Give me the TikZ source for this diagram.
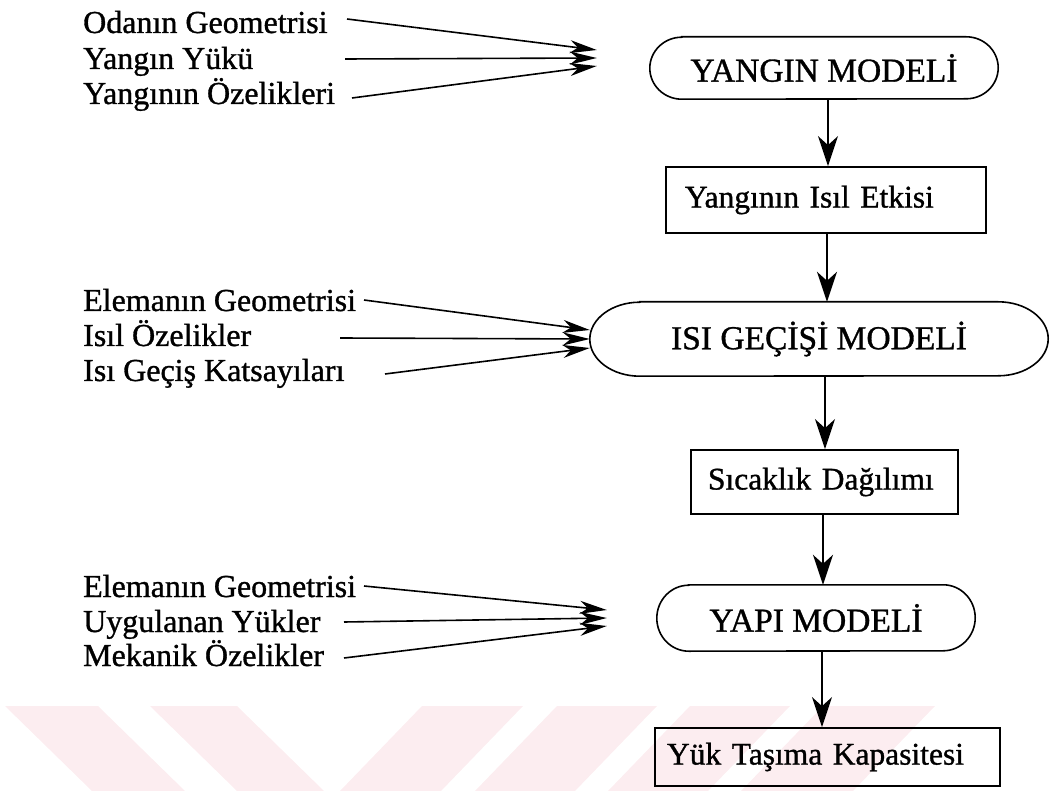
\documentclass[tikz,border=0pt]{standalone}
\usepackage{fontspec}
\setmainfont{Liberation Serif}[FakeBold=1]
\usetikzlibrary{arrows.meta}
\definecolor{wm}{RGB}{252,237,240}
\tikzset{
  lbl/.style={anchor=base west, inner sep=0pt, font=\fontsize{32}{36}\selectfont},
  capnode/.style={inner sep=0pt, font=\fontsize{33.5}{40}\selectfont},
  boxnode/.style={draw, line width=1.8pt, align=left, inner ysep=0pt, font=\fontsize{31.5}{36}\selectfont},
  outline/.style={line width=1.6pt},
  inarrow/.style={line width=1.6pt, -{Stealth[length=27pt,width=13pt,inset=8pt]}},
  downarrow/.style={line width=1.8pt, -{Stealth[length=30pt,width=20pt,inset=9pt]}},
}
\begin{document}
\begin{tikzpicture}[x=1pt,y=-1pt]
\useasboundingbox (0,0) rectangle (1052,791);
% watermark
\fill[wm] (5,706) -- (98,706) -- (185,791) -- (92,791) -- cycle;
\fill[wm] (150,706) -- (237,706) -- (324,791) -- (237,791) -- cycle;
\fill[wm] (422,706) -- (523,706) -- (441,791) -- (340,791) -- cycle;
\fill[wm] (557,706) -- (657,706) -- (575,791) -- (475,791) -- cycle;
\fill[wm] (690,706) -- (790,706) -- (708,791) -- (608,791) -- cycle;
\fill[wm] (823,706) -- (935,706) -- (853,791) -- (741,791) -- cycle;

% model nodes (rounded ends drawn below)
\node[capnode, minimum width=348pt, minimum height=62pt] (m1) at (824,68) {YANGIN MODELİ};
\node[capnode, minimum width=458pt, minimum height=74pt] (m2) at (819,339) {ISI GEÇİŞİ MODELİ};
\node[capnode, minimum width=318pt, minimum height=66pt] (m3) at (816,618) {YAPI MODELİ};

\draw[outline] ([xshift=32pt]m1.north west) -- ([xshift=-32pt]m1.north east)
  arc[start angle=90, end angle=-90, x radius=32pt, y radius=31pt]
  -- ([xshift=32pt]m1.south west)
  arc[start angle=270, end angle=90, x radius=32pt, y radius=31pt] -- cycle;
\draw[outline] ([xshift=50pt]m2.north west) -- ([xshift=-50pt]m2.north east)
  arc[start angle=90, end angle=-90, x radius=50pt, y radius=37pt]
  -- ([xshift=50pt]m2.south west)
  arc[start angle=270, end angle=90, x radius=50pt, y radius=37pt] -- cycle;
\draw[outline] ([xshift=32pt]m3.north west) -- ([xshift=-32pt]m3.north east)
  arc[start angle=90, end angle=-90, x radius=32pt, y radius=33pt]
  -- ([xshift=32pt]m3.south west)
  arc[start angle=270, end angle=90, x radius=32pt, y radius=33pt] -- cycle;

% result boxes
\node[boxnode, minimum height=66pt, text width=282pt, inner xsep=19pt] (b1) at (826,200) {Yangının Isıl Etkisi};
\node[boxnode, minimum height=64pt, text width=233pt, inner xsep=17pt] (b2) at (824.5,482) {Sıcaklık Dağılımı};
\node[boxnode, minimum height=58pt, text width=321pt, inner xsep=12pt] (b3) at (827.5,757) {Yük Taşıma Kapasitesi};

% vertical flow
\coordinate (v1) at (828,0);
\coordinate (v2) at (827,0);
\coordinate (v3) at (825,0);
\coordinate (v4) at (823,0);
\coordinate (v5) at (822,0);
\draw[downarrow] (m1.south -| v1) -- (b1.north -| v1);
\draw[downarrow] (b1.south -| v2) -- (m2.north -| v2);
\draw[downarrow] (m2.south -| v3) -- (b2.north -| v3);
\draw[downarrow] (b2.south -| v4) -- (m3.north -| v4);
\draw[downarrow] (m3.south -| v5) -- (b3.north -| v5);

% group 1 inputs
\node[lbl] (g1a) at (83,33) {Odanın Geometrisi};
\node[lbl] (g1b) at (83,69) {Yangın Yükü};
\node[lbl] (g1c) at (83,104) {Yangının Özelikleri};
\coordinate (s1a) at (347,19);
\coordinate (s1b) at (345,59);
\coordinate (s1c) at (352,98);
\draw[inarrow] (s1a) -- ([xshift=-53pt,yshift=18pt]m1.west);
\draw[inarrow] (s1b) -- ([xshift=-53pt,yshift=10pt]m1.west);
\draw[inarrow] (s1c) -- ([xshift=-53pt,yshift=2pt]m1.west);

% group 2 inputs
\node[lbl] (g2a) at (83,311) {Elemanın Geometrisi};
\node[lbl] (g2b) at (83,346) {Isıl Özelikler};
\node[lbl] (g2c) at (83,381) {Isı Geçiş Katsayıları};
\coordinate (s2a) at (364,300);
\coordinate (s2b) at (340,338);
\coordinate (s2c) at (385,374);
\draw[inarrow] (s2a) -- ([yshift=9pt]m2.west);
\draw[inarrow] (s2b) -- (m2.west);
\draw[inarrow] (s2c) -- ([yshift=-9pt]m2.west);

% group 3 inputs
\node[lbl] (g3a) at (83,597) {Elemanın Geometrisi};
\node[lbl] (g3b) at (83,632) {Uygulanan Yükler};
\node[lbl] (g3c) at (83,666) {Mekanik Özelikler};
\coordinate (s3a) at (364,586);
\coordinate (s3b) at (344,622);
\coordinate (s3c) at (344,658);
\draw[inarrow] (s3a) -- ([xshift=-50pt,yshift=8pt]m3.west);
\draw[inarrow] (s3b) -- ([xshift=-50pt]m3.west);
\draw[inarrow] (s3c) -- ([xshift=-50pt,yshift=-8pt]m3.west);
\end{tikzpicture}
\end{document}
